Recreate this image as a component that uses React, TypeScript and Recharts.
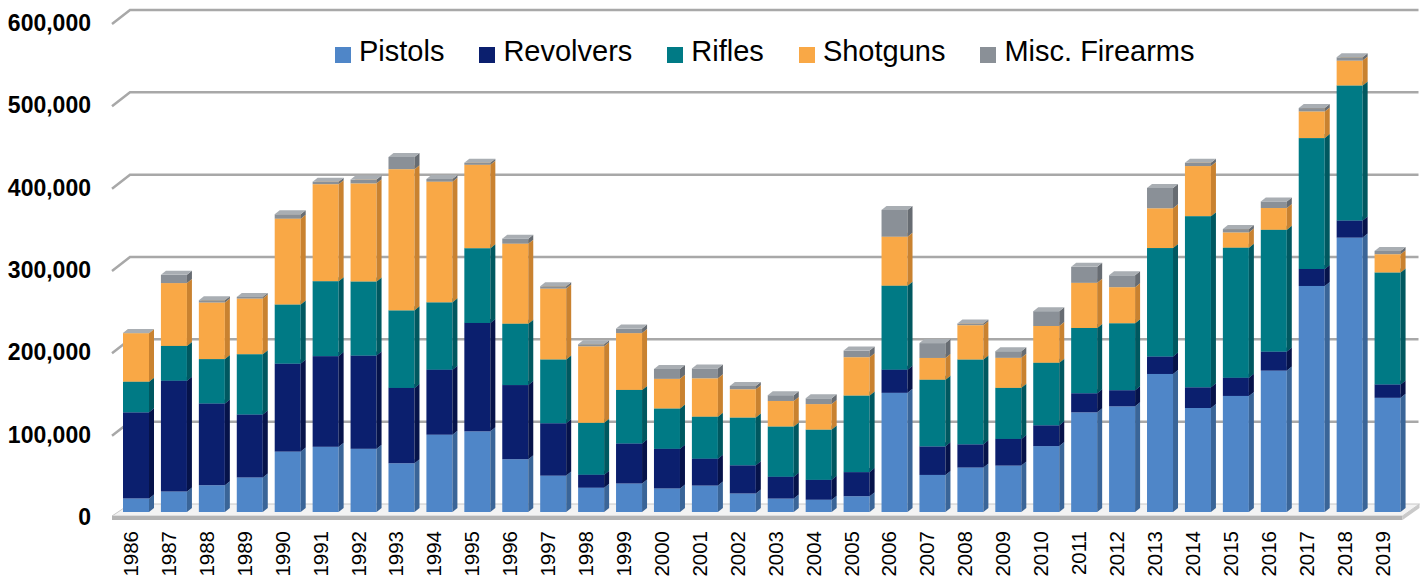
import React from 'react';
import { BarChart, Bar, XAxis, YAxis, CartesianGrid, Legend } from 'recharts';

const years = [
  '1986', '1987', '1988', '1989', '1990', '1991', '1992', '1993', '1994', '1995',
  '1996', '1997', '1998', '1999', '2000', '2001', '2002', '2003', '2004', '2005',
  '2006', '2007', '2008', '2009', '2010', '2011', '2012', '2013', '2014', '2015',
  '2016', '2017', '2018', '2019',
];

const pistols = [
  16511, 24941, 32570, 41970, 73398, 79275, 76824, 59234, 93959, 97969,
  64126, 44182, 29537, 34663, 28636, 32151, 22555, 16340, 14959, 19196,
  144779, 45053, 54030, 56402, 80041, 121035, 128313, 167653, 126316, 140983,
  171728, 274534, 333266, 138739,
];

const revolvers = [
  104571, 134611, 99289, 76494, 106820, 110058, 113178, 91460, 78935, 131634,
  90068, 63656, 15788, 48616, 48130, 32662, 34187, 26524, 24122, 29271,
  28120, 34662, 28205, 32377, 25286, 23221, 19643, 21236, 25176, 22115,
  23070, 20627, 20779, 16213,
];

const rifles = [
  37224, 42161, 53896, 73247, 71834, 91067, 90015, 94272, 81835, 90834,
  74557, 77506, 63000, 65000, 49000, 51000, 58000, 61000, 61000, 93000,
  102000, 81000, 103000, 62000, 76000, 79256, 81355, 131718, 207868, 158000,
  148000, 159000, 164000, 136000,
];

const shotguns = [
  58943, 76337, 68699, 67559, 104250, 117801, 119127, 171475, 146524, 101301,
  97191, 86000, 93000, 69000, 36000, 46600, 34400, 31000, 31000, 46600,
  59500, 26400, 41700, 36500, 44600, 54878, 43806, 48328, 60800, 18500,
  26400, 32400, 30200, 22200,
];

const misc = [
  199, 9995, 2728, 2012, 5323, 2964, 4647, 14763, 3220, 2483,
  6080, 2800, 2400, 5500, 12000, 12000, 4000, 7000, 7000, 8000,
  32500, 18000, 2000, 8000, 18000, 19352, 14369, 24722, 4000, 4000,
  8000, 4000, 4000, 4000,
];

const yTicks = [0, 100000, 200000, 300000, 400000, 500000, 600000];

const seriesNames = ['Pistols', 'Revolvers', 'Rifles', 'Shotguns', 'Misc. Firearms'];
const seriesKeys = ['pistols', 'revolvers', 'rifles', 'shotguns', 'misc'];

const data = years.map((year, i) => ({
  year,
  pistols: pistols[i],
  revolvers: revolvers[i],
  rifles: rifles[i],
  shotguns: shotguns[i],
  misc: misc[i],
}));

const FONT = '"Liberation Sans", Arial, Helvetica, sans-serif';

const COLORS: Record<string, { front: string; side: string; top: string }> = {
  pistols: { front: '#4F86C8', side: '#3A6598', top: '#7DA5D8' },
  revolvers: { front: '#0B1F6E', side: '#06134A', top: '#2E4290' },
  rifles: { front: '#007A85', side: '#005860', top: '#2F979F' },
  shotguns: { front: '#F9A846', side: '#C98230', top: '#FCC57C' },
  misc: { front: '#8A9097', side: '#676C72', top: '#A9AEB3' },
};

const DX = 5;
const DY = 4;

const make3D = (key: string) => (props: any) => {
  const { x, y, width, height } = props;
  if (x == null || y == null || !width || height == null || height <= 0) return <g />;
  const c = COLORS[key];
  const fw = width - DX;
  return (
    <g>
      <rect x={x} y={y} width={fw} height={height} fill={c.front} />
      <polygon
        points={`${x + fw},${y} ${x + width},${y - DY} ${x + width},${y + height - DY} ${x + fw},${y + height}`}
        fill={c.side}
      />
      <polygon
        points={`${x},${y} ${x + DX},${y - DY} ${x + width},${y - DY} ${x + fw},${y}`}
        fill={c.top}
      />
    </g>
  );
};

const gridLine = (props: any) => {
  const { x1, x2, y1, index } = props;
  if (y1 >= 510) {
    return (
      <g key={`floor-${index}`}>
        <polygon
          points={`${x1 - 8},${y1 + 4} ${x1 + 10},${y1 - 8} ${x2 + 10},${y1 - 8} ${x2 - 7},${y1 + 4}`}
          fill="#F3F3F3"
          stroke="#C8C8C8"
          strokeWidth={1}
        />
        <rect x={x1 - 8} y={y1 + 4} width={x2 - x1 + 1} height={4} fill="#B4B4B4" />
        <polygon
          points={`${x2 - 7},${y1 + 4} ${x2 + 10},${y1 - 8} ${x2 + 10},${y1 - 4} ${x2 - 7},${y1 + 8}`}
          fill="#C9C9C9"
        />
      </g>
    );
  }
  return (
    <path
      key={`grid-${index}`}
      d={`M${x1 - 8},${y1 + 6} L${x1 + 10},${y1 - 8} L${x2 + 9},${y1 - 8}`}
      stroke="#A8A8A8"
      strokeWidth={2.5}
      fill="none"
    />
  );
};

const YTick = (props: any) => {
  const { y, payload } = props;
  return (
    <text
      x={91}
      y={y + 5}
      dy="0.35em"
      textAnchor="end"
      fontFamily={FONT}
      fontWeight="bold"
      fontSize={23}
      fill="#000"
    >
      {Number(payload.value).toLocaleString('en-US')}
    </text>
  );
};

const XTick = (props: any) => {
  const { x, payload } = props;
  const bx = x - 1;
  const by = 531;
  return (
    <text
      x={bx}
      y={by}
      transform={`rotate(-90, ${bx}, ${by})`}
      textAnchor="end"
      fontFamily={FONT}
      fontSize={20.5}
      fill="#000"
    >
      {payload.value}
    </text>
  );
};

const LegendContent = (props: any) => {
  const payload = [...(props.payload || [])].sort(
    (a: any, b: any) => seriesKeys.indexOf(a.dataKey) - seriesKeys.indexOf(b.dataKey)
  );
  return (
    <div style={{ display: 'flex', flexDirection: 'row', fontFamily: FONT, whiteSpace: 'nowrap' }}>
      {payload.map((entry: any, i: number) => (
        <div key={i} style={{ display: 'flex', alignItems: 'flex-start', marginRight: 35 }}>
          <div
            style={{
              width: 16,
              height: 16,
              marginTop: 12,
              marginRight: 8,
              background: COLORS[entry.dataKey]?.front || entry.color,
            }}
          />
          <span style={{ fontSize: 29, lineHeight: '33px', color: '#000' }}>{entry.value}</span>
        </div>
      ))}
    </div>
  );
};

export default function App() {
  return (
    <div style={{ position: 'absolute', left: 0, top: 0, width: 1425, height: 584, background: '#fff' }}>
      <BarChart
        width={1425}
        height={584}
        data={data}
        margin={{ top: 18, right: 15.5, bottom: 0, left: 0 }}
        barSize={31}
      >
        <CartesianGrid vertical={false} horizontal={gridLine} stroke="#A8A8A8" />
        <XAxis
          dataKey="year"
          axisLine={false}
          tickLine={false}
          interval={0}
          height={72}
          tick={<XTick />}
        />
        <YAxis
          domain={[0, 600000]}
          ticks={yTicks}
          axisLine={false}
          tickLine={false}
          width={120}
          tick={<YTick />}
          interval={0}
        />
        <Legend
          layout="horizontal"
          verticalAlign="middle"
          align="center"
          wrapperStyle={{ top: 35, left: 335, width: 'auto', height: 'auto' }}
          content={<LegendContent />}
        />
        {seriesKeys.map((k, i) => (
          <Bar
            key={k}
            dataKey={k}
            name={seriesNames[i]}
            stackId="a"
            fill={COLORS[k].front}
            shape={make3D(k)}
            isAnimationActive={false}
          />
        ))}
      </BarChart>
    </div>
  );
}
